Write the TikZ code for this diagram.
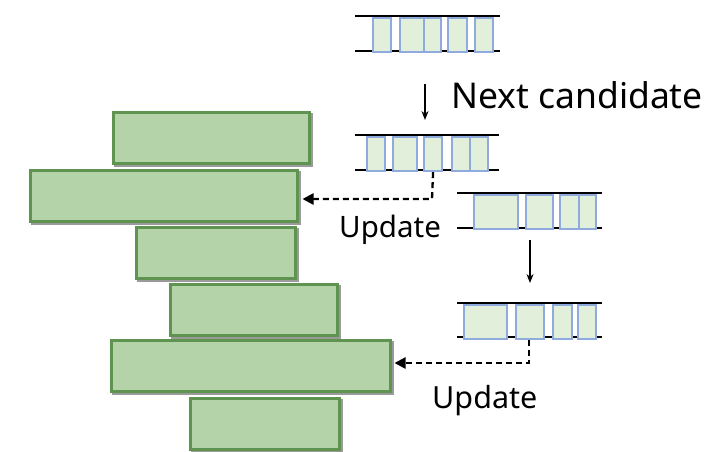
\documentclass[tikz,border=0pt]{standalone}
\usepackage{fontspec}
\setmainfont{Noto Sans}
\usetikzlibrary{arrows.meta}
\definecolor{blockfill}{HTML}{B5D3A8}
\definecolor{blockedge}{HTML}{5F9450}
\definecolor{cellfill}{HTML}{E2EFDA}
\definecolor{celledge}{HTML}{8FAADC}
\definecolor{shadowgray}{HTML}{9A9A9A}
\tikzset{
  block/.style={draw=blockedge, fill=blockfill, line width=3pt, inner sep=0pt,
    anchor=north west, minimum height=51pt,
    preaction={draw=shadowgray, fill=shadowgray, line width=3pt,
      transform canvas={xshift=2.5pt, yshift=-2.5pt}}},
  cellbox/.style={draw=celledge, fill=cellfill, line width=2.2pt, inner sep=0pt,
    anchor=north west, minimum height=34pt},
  rail/.style={line width=1.3pt, black},
  flow/.style={line width=1.3pt, -{Stealth[length=9pt,width=7pt]}},
  upd/.style={line width=2.3pt, dash pattern=on 6pt off 4pt,
    -{Triangle[length=11pt,width=11pt]}},
  label/.style={inner sep=0pt, anchor=base west},
}
\begin{document}
\begin{tikzpicture}[x=1pt,y=-1pt]
\useasboundingbox (0,0) rectangle (713,451);

% stacked blocks on the left
\node[block, minimum width=196pt] (b1) at (111.5,110.5) {};
\node[block, minimum width=267pt] (b2) at (28.5,168.5) {};
\node[block, minimum width=159pt] (b3) at (134.5,225.5) {};
\node[block, minimum width=167pt] (b4) at (168.5,282.5) {};
\node[block, minimum width=279pt] (b5) at (109.5,338.5) {};
\node[block, minimum width=149pt] (b6) at (188.5,396.5) {};

% array 1
\draw[rail] (355,16) -- (500,16);
\draw[rail] (355,51) -- (500,51);
\node[cellbox, minimum width=18pt] (a1c1) at (372,17) {};
\node[cellbox, minimum width=24pt] (a1c2) at (399,17) {};
\node[cellbox, minimum width=17pt] (a1c3) at (423,17) {};
\node[cellbox, minimum width=19pt] (a1c4) at (447,17) {};
\node[cellbox, minimum width=18pt] (a1c5) at (474,17) {};

% array 2
\draw[rail] (355,135) -- (499,135);
\draw[rail] (355,170) -- (499,170);
\node[cellbox, minimum width=18pt] (a2c1) at (366,136) {};
\node[cellbox, minimum width=24pt] (a2c2) at (392,136) {};
\node[cellbox, minimum width=18pt] (a2c3) at (423,136) {};
\node[cellbox, minimum width=18pt] (a2c4) at (451,136) {};
\node[cellbox, minimum width=18pt] (a2c5) at (469,136) {};

% array 3
\draw[rail] (457,193) -- (602,193);
\draw[rail] (457,228) -- (602,228);
\node[cellbox, minimum width=44pt] (a3c1) at (473,194) {};
\node[cellbox, minimum width=27pt] (a3c2) at (525,194) {};
\node[cellbox, minimum width=19pt] (a3c3) at (559,194) {};
\node[cellbox, minimum width=17pt] (a3c4) at (578,194) {};

% array 4
\draw[rail] (457,303) -- (602,303);
\draw[rail] (457,337) -- (602,337);
\node[cellbox, minimum width=43pt] (a4c1) at (463,304) {};
\node[cellbox, minimum width=28pt] (a4c2) at (515,304) {};
\node[cellbox, minimum width=19pt] (a4c3) at (552,304) {};
\node[cellbox, minimum width=18pt] (a4c4) at (577,304) {};

% labels
\node[label, font=\fontsize{35.5}{40}\selectfont] (next) at (451,108) {Next candidate};
\node[label, font=\fontsize{29.5}{34}\selectfont] (up1) at (339,237) {Update};
\node[label, font=\fontsize{30.5}{34}\selectfont] (up2) at (432,408) {Update};

% step arrows
\coordinate (s1) at (425,84);
\coordinate (e1) at (425,120);
\draw[flow] (s1) -- (e1);
\coordinate (s2) at (530,240);
\coordinate (e2) at (530,283);
\draw[flow] (s2) -- (e2);

% update arrows
\coordinate (k1) at (432,199);
\draw[upd] (a2c3.south) -- (k1) -- ([xshift=4pt]k1 -| b2.east);
\coordinate (k2) at (529,363);
\draw[upd] (a4c2.south -| k2) -- (k2) -- ([xshift=3pt]k2 -| b5.east);
\end{tikzpicture}
\end{document}
